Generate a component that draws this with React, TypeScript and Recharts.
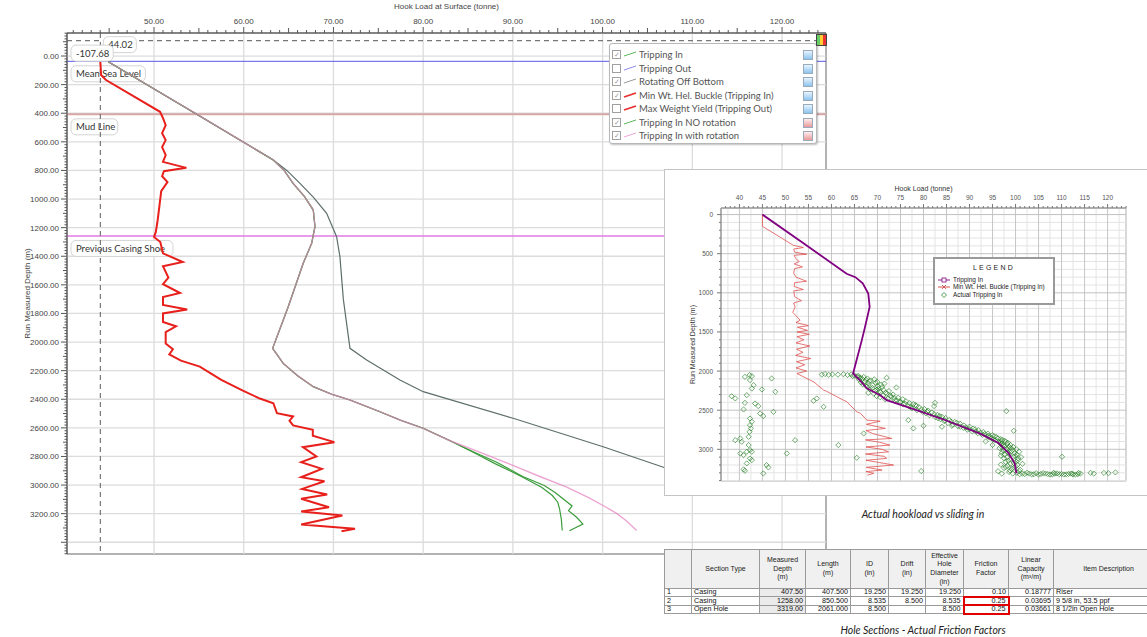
import React from "react";
import {
  ScatterChart,
  Scatter,
  XAxis,
  YAxis,
  ReferenceLine,
  ReferenceArea,
} from "recharts";

type Pt = [number, number];

// ---------- main chart: hook load (tonne) vs run measured depth (m) ----------
const mainTrunk: Pt[] = [
  [44.9, 40], [54.9, 412], [63.3, 727], [64.5, 800], [65.5, 890], [66.8, 985],
  [67.75, 1077], [67.94, 1193], [67.57, 1310], [66.63, 1449], [64.96, 1753],
  [63.22, 2044], [64.4, 2149], [66.0, 2235], [67.75, 2312], [69.8, 2365],
  [71.84, 2405], [75.18, 2487], [77.41, 2545], [80.0, 2603], [83.0, 2690],
];
const withRotationTail: Pt[] = [
  [86.5, 2775], [90.0, 2863], [93.0, 2940], [96.0, 3015], [98.5, 3090],
  [100.4, 3155], [101.6, 3200], [102.6, 3248], [103.8, 3318],
];
const noRotationTail: Pt[] = [
  [85.9, 2781], [88.0, 2850], [90.0, 2910], [91.1, 2945], [93.2, 3015],
  [94.4, 3073], [95.0, 3120], [95.2, 3164], [95.4, 3240], [95.5, 3318],
];
const trippingInTail: Pt[] = [
  [85.7, 2770], [88.2, 2840], [91.1, 2940], [93.5, 3003], [94.7, 3052],
  [96.6, 3146], [96.2, 3179], [97.1, 3225], [97.8, 3272], [96.3, 3319],
];
const rotatingOffBottom: Pt[] = [
  [44.9, 40], [54.9, 412], [63.3, 727], [64.8, 800], [66.27, 890], [67.8, 990],
  [69.24, 1100], [70.35, 1263], [70.72, 1403], [71.1, 1700], [71.84, 2044],
  [73.7, 2125], [77.41, 2265], [80.0, 2347], [90.03, 2533], [100.06, 2732],
  [106.37, 2867], [110.0, 2945],
];
const minWtBuckleMain: Pt[] = [
  [44.02, 42], [44.1, 133], [44.65, 168], [50.67, 390], [51.0, 434], [51.3, 483],
  [50.9, 539], [51.3, 588], [50.9, 637], [51.3, 693], [51.0, 740], [53.6, 782],
  [51.1, 805], [50.9, 840], [51.5, 882], [50.8, 945], [50.6, 1050], [50.4, 1150],
  [50.2, 1230], [50.0, 1265], [50.7, 1300], [51.0, 1380], [53.2, 1440], [51.0, 1470],
  [51.6, 1550], [51.0, 1595], [52.9, 1657], [51.0, 1685], [51.0, 1740], [53.7, 1773],
  [51.0, 1800], [51.0, 1860], [52.45, 1890], [51.3, 1930], [51.3, 2011], [52.1, 2050],
  [51.7, 2086], [53.0, 2130], [55.1, 2172], [57.5, 2265], [59.9, 2340], [61.8, 2395],
  [63.3, 2428], [63.7, 2497], [65.5, 2520], [65.1, 2550], [65.5, 2583], [67.7, 2613],
  [67.7, 2655], [70.1, 2700], [66.6, 2735], [68.1, 2800], [66.4, 2840], [68.7, 2887],
  [66.4, 2945], [69.0, 2973], [66.5, 3027], [69.3, 3066], [66.4, 3096], [69.5, 3155],
  [66.4, 3185], [71.0, 3213], [66.4, 3276], [72.4, 3306], [70.9, 3323],
];

const markerDepths = [37, 407.5, 1258];
const markerNames = ["Mean Sea Level", "Mud Line", "Previous Casing Shoe"];
const markerColors = ["#5a5ae6", "#d9a6a6", "#e07ae0"];
const markerWidths = [1, 2, 1.4];
const cursorLoad = 44.02;
const cursorDepth = -107.68;

const mainXDomain: [number, number] = [40.3, 124.9];
const mainYDomain: [number, number] = [-161, 3482];
const mainXLabels = [50, 60, 70, 80, 90, 100, 110, 120];
const mainDepthLabels = [0, 200, 400, 600, 800, 1000, 1200, 1400, 1600, 1800, 2000, 2200, 2400, 2600, 2800, 3000, 3200];
const mainGridY = [...mainDepthLabels, 3400];

const legendNames = [
  "Tripping In",
  "Tripping Out",
  "Rotating Off Bottom",
  "Min Wt. Hel. Buckle (Tripping In)",
  "Max Weight Yield (Tripping Out)",
  "Tripping In NO rotation",
  "Tripping In with rotation",
];
const legendColors = ["#5cb85c", "#8c8cf0", "#9a9a9a", "#e83030", "#e83030", "#5cb85c", "#f0a6d6"];
const legendChecked = [true, false, true, true, false, true, true];
const legendIconBlue = [true, true, true, true, true, false, false];

// ---------- inset: actual hookload vs sliding in ----------
const insetTrippingIn: Pt[] = [
  [45, 0], [54, 370], [63.3, 756], [65.2, 800], [66.8, 880], [68.0, 1008], [68.3, 1180],
  [67.3, 1435], [66.6, 1605], [64.7, 2030], [66.2, 2120], [67.7, 2221], [70.6, 2308],
  [72.0, 2371], [78.5, 2500], [85.1, 2635], [92.3, 2800], [96.3, 2920], [98.5, 3050],
  [99.8, 3180], [100.2, 3306],
];
const insetMinWtBuckle: Pt[] = [
  [45, 0], [45, 150], [51.7, 392], [53.9, 422], [51.8, 440], [52.0, 480], [54.6, 507],
  [51.9, 520], [52.2, 560], [53.0, 600], [51.9, 630], [53.7, 669], [52.0, 690], [51.8, 750],
  [52.3, 800], [54.6, 852], [52.0, 870], [51.9, 920], [53.9, 958], [51.8, 975], [52.0, 1050],
  [53.5, 1100], [51.8, 1130], [52.1, 1180], [51.6, 1250], [52.4, 1300], [53.2, 1350],
  [52.3, 1380], [55.0, 1420], [52.6, 1440], [54.8, 1480], [52.5, 1500], [55.2, 1530],
  [52.5, 1560], [54.0, 1600], [52.3, 1640], [55.3, 1680], [52.4, 1720], [53.8, 1760],
  [52.2, 1800], [55.5, 1840], [52.4, 1880], [54.2, 1920], [52.3, 1960], [54.6, 2000],
  [52.5, 2031], [55.4, 2117], [56.2, 2140], [58.3, 2244], [59.0, 2260], [62.6, 2372],
  [63.3, 2390], [65.5, 2521], [66.3, 2540], [67.7, 2627], [70.6, 2640], [67.6, 2680],
  [71.7, 2733], [67.5, 2760], [69.0, 2800], [73.1, 2861], [67.4, 2880], [70.5, 2910],
  [72.7, 2946], [67.5, 2970], [71.0, 3000], [72.4, 3032], [67.4, 3060], [71.5, 3090],
  [72.0, 3116], [67.5, 3140], [70.5, 3170], [73.5, 3201], [67.6, 3230], [71.0, 3265],
  [67.5, 3285], [69.2, 3307], [67.8, 3330],
];
const actualOutliers: Pt[] = [
  [41.2, 2074], [42.2, 2052], [42.7, 2065], [42.3, 2116], [43.1, 2180], [42.7, 2223],
  [44.9, 2235], [41.6, 2308], [38.3, 2321], [39.1, 2350], [41.2, 2406], [43.4, 2414],
  [44.1, 2448], [40.9, 2491], [44.5, 2542], [45.2, 2576], [47.4, 2521], [42.3, 2606],
  [42.7, 2648], [42.3, 2691], [42.5, 2733], [42.2, 2776], [42.0, 2840], [39.1, 2883],
  [40.2, 2861], [40.5, 2904], [42.0, 2946], [42.3, 3010], [41.6, 3031], [42.7, 3031],
  [40.2, 3053], [40.9, 3074], [42.3, 3117], [42.7, 3138], [41.6, 3180], [45.9, 3202],
  [46.3, 3232], [40.9, 3257], [41.2, 3274], [45.2, 3308], [47.0, 2095], [47.8, 2265],
  [50.3, 3053], [52.1, 2883], [56.1, 2380], [56.8, 2350], [58.3, 2457], [61.5, 2946],
  [65.5, 3108], [67.0, 2797], [98.0, 2512], [99.6, 2763], [110.1, 3095], [79.5, 3278],
];
const actualBand: Pt[] = [
  [57.9, 2045], [58.6, 2038], [59.4, 2048], [60.2, 2042], [61.4, 2046], [62.6, 2040],
  [63.5, 2050], [64.3, 2044], [65.0, 2056], [65.8, 2062],
  [65.5, 2070], [66.3, 2085], [67.0, 2075], [67.8, 2095], [66.0, 2110], [68.5, 2120],
  [69.3, 2105], [67.2, 2135], [70.0, 2140], [68.0, 2160], [66.8, 2170], [69.0, 2180],
  [70.8, 2175], [71.5, 2160], [72.0, 2086], [74.1, 2210], [67.7, 2200], [68.9, 2215],
  [70.2, 2225], [71.3, 2240], [69.5, 2250], [72.5, 2255], [70.7, 2270], [68.0, 2280],
  [72.0, 2290], [73.4, 2300], [71.2, 2310], [69.8, 2320], [73.0, 2330], [74.5, 2340],
  [72.3, 2350], [75.5, 2360],
  [64.6, 2065], [65.9, 2080], [66.7, 2100], [67.5, 2112], [68.2, 2130], [66.4, 2145],
  [69.6, 2150], [67.6, 2185], [70.1, 2195], [71.0, 2205], [68.4, 2235], [69.9, 2238],
  [70.4, 2260], [71.8, 2275], [69.2, 2290], [72.8, 2315], [70.6, 2335], [73.6, 2345],
  [71.7, 2362], [74.2, 2372],
  [73.8, 2375], [76.2, 2385], [74.9, 2400], [77.0, 2410], [75.6, 2425], [78.2, 2435],
  [76.8, 2450], [79.0, 2460], [77.5, 2475], [80.2, 2485], [78.6, 2500], [81.0, 2505],
  [79.8, 2520], [82.5, 2406], [82.3, 2448], [80.5, 2540], [82.3, 2550], [81.3, 2565],
  [83.5, 2575], [82.6, 2590], [84.8, 2600], [76.7, 2627],
  [75.0, 2390], [76.0, 2415], [77.8, 2420], [78.5, 2445], [77.2, 2462], [79.6, 2492],
  [80.8, 2520], [81.8, 2530], [83.0, 2560], [84.0, 2585], [83.2, 2605],
  [83.7, 2615], [85.6, 2625], [84.5, 2640], [86.8, 2650], [85.3, 2665], [87.9, 2670],
  [86.4, 2685], [88.8, 2695], [87.5, 2705], [90.0, 2710], [80.0, 2699], [77.8, 2733],
  [84.0, 2712], [88.7, 2725], [90.8, 2735], [89.5, 2750], [91.9, 2755], [90.6, 2770],
  [93.0, 2780], [91.8, 2795], [94.0, 2800],
  [84.6, 2628], [86.0, 2645], [87.2, 2660], [86.2, 2700], [88.0, 2712], [89.2, 2720],
  [89.9, 2740], [91.2, 2745], [91.4, 2775], [92.4, 2788], [93.3, 2805],
  [92.8, 2815], [95.0, 2820], [93.9, 2835], [95.9, 2845], [94.8, 2860], [96.8, 2870],
  [95.6, 2885], [97.6, 2890], [96.3, 2905], [93.5, 2900], [98.3, 2915], [97.0, 2930],
  [95.0, 2945], [98.9, 2945], [97.6, 2960], [99.5, 2970], [96.5, 2985], [98.2, 2995],
  [100.2, 3000],
  [94.2, 2825], [95.4, 2835], [94.3, 2850], [96.2, 2862], [95.1, 2875], [97.1, 2880],
  [96.9, 2898], [97.9, 2905], [96.6, 2920], [98.2, 2935], [97.3, 2950], [98.6, 2965],
  [97.1, 2975], [99.0, 2985], [97.8, 3005], [99.4, 3010],
  [97.3, 3015], [99.0, 3025], [100.8, 3030], [97.0, 3045], [98.6, 3060], [100.3, 3070],
  [96.8, 3080], [99.5, 3095], [101.2, 3100], [97.5, 3115], [98.9, 3130], [100.5, 3140],
  [97.8, 3160], [99.6, 3175], [101.5, 3185], [96.8, 3195], [98.3, 3210], [100.0, 3220],
  [97.5, 3240], [99.2, 3250], [101.0, 3260], [96.2, 3280], [98.6, 3290], [100.3, 3300],
  [97.0, 3310],
  [98.3, 3040], [99.8, 3050], [97.6, 3065], [99.9, 3085], [98.2, 3100], [100.6, 3115],
  [98.4, 3145], [100.1, 3160], [98.9, 3185], [100.4, 3200], [97.9, 3225], [99.7, 3235],
  [98.8, 3270], [100.8, 3280], [99.4, 3310], [100.9, 3318],
  [101.5, 3310], [102.5, 3300], [103.5, 3320], [104.5, 3305], [105.5, 3315], [106.5, 3310],
  [107.5, 3322], [108.5, 3312], [109.5, 3318], [110.5, 3322], [111.5, 3315], [112.5, 3320],
  [113.5, 3318], [114.1, 3310], [108.3, 3300], [112.3, 3312], [116.3, 3300], [117.0, 3310],
  [119.2, 3302], [120.2, 3305], [121.7, 3295], [113.7, 3302],
  [102.0, 3316], [103.0, 3310], [104.0, 3318], [105.0, 3322], [106.0, 3305], [107.0, 3316],
  [108.0, 3320], [109.0, 3308], [110.0, 3314], [111.0, 3320], [112.0, 3310], [113.0, 3322],
];

const insetXDomain: [number, number] = [36, 124];
const insetYDomain: [number, number] = [-84, 3405];
const insetXLabels = [40, 45, 50, 55, 60, 65, 70, 75, 80, 85, 90, 95, 100, 105, 110, 115, 120];
const insetDepthLabels = [0, 500, 1000, 1500, 2000, 2500, 3000];

// ---------- hole sections table ----------
const tableHeaders = [
  [""], ["Section Type"], ["Measured", "Depth", "(m)"], ["Length", "(m)"], ["ID", "(in)"],
  ["Drift", "(in)"], ["Effective", "Hole", "Diameter", "(in)"], ["Friction", "Factor"],
  ["Linear", "Capacity", "(m\u00b3/m)"], ["Item Description"],
];
const sectionTypes = ["Casing", "Casing", "Open Hole"];
const measuredDepths = ["407.50", "1258.00", "3319.00"];
const sectionLengths = ["407.500", "850.500", "2061.000"];
const innerDiameters = ["19.250", "8.535", "8.500"];
const driftDiameters = ["19.250", "8.500", ""];
const effectiveDiameters = ["19.250", "8.535", "8.500"];
const frictionFactors = ["0.10", "0.25", "0.25"];
const linearCapacities = ["0.18777", "0.03695", "0.03661"];
const itemDescriptions = ["Riser", "9 5/8 in, 53.5 ppf", "8 1/2in Open Hole"];
const colWidths = [27, 68, 46, 45, 38, 37, 38, 45, 45, 110];

const steps = (from: number, to: number, step: number) => {
  const out: number[] = [];
  for (let v = from; v <= to + 1e-9; v += step) out.push(Math.round(v * 100) / 100);
  return out;
};
const rows = (pts: Pt[]) => pts.map(([x, d]) => ({ x, d }));
const isMult = (v: number, m: number) => Math.abs(v / m - Math.round(v / m)) < 1e-6;

const NoDot = () => <g />;

function Diamond(props: any) {
  const { cx, cy } = props;
  if (cx == null || cy == null) return <g />;
  const r = 2.6;
  return (
    <path
      d={`M${cx},${cy - r}L${cx + r},${cy}L${cx},${cy + r}L${cx - r},${cy}Z`}
      fill="none"
      stroke="#237f23"
      strokeWidth={0.8}
      strokeOpacity={0.8}
    />
  );
}

function MainTopTick(props: any) {
  const { x, y, payload } = props;
  const v = payload.value;
  const len = isMult(v, 10) ? 6 : isMult(v, 5) ? 5 : 3;
  return (
    <g>
      <line x1={x} x2={x} y1={y} y2={y - len} stroke="#555" />
      {mainXLabels.includes(v) && (
        <text x={x} y={y - 9} textAnchor="middle" fontSize={8} fill="#444">
          {v.toFixed(2)}
        </text>
      )}
    </g>
  );
}

function MainLeftTick(props: any) {
  const { x, y, payload } = props;
  const v = payload.value;
  const len = isMult(v, 200) ? 6 : isMult(v, 100) ? 4 : 2.5;
  return (
    <g>
      <line x1={x} x2={x - len} y1={y} y2={y} stroke="#555" />
      {mainDepthLabels.includes(v) && (
        <text x={x - 8} y={y + 3} textAnchor="end" fontSize={8} fill="#444">
          {v.toFixed(2)}
        </text>
      )}
    </g>
  );
}

function InsetTopTick(props: any) {
  const { x, y, payload } = props;
  const v = payload.value;
  const major = insetXLabels.includes(v);
  return (
    <g>
      <line x1={x} x2={x} y1={y} y2={y - (major ? 4 : 2)} stroke="#777" />
      {major && (
        <text x={x} y={y - 8.5} textAnchor="middle" fontSize={6.5} fill="#555">
          {v}
        </text>
      )}
    </g>
  );
}

function InsetLeftTick(props: any) {
  const { x, y, payload } = props;
  const v = payload.value;
  const major = insetDepthLabels.includes(v);
  return (
    <g>
      <line x1={x} x2={x - (major ? 4 : 2)} y1={y} y2={y} stroke="#777" />
      {major && (
        <text x={x - 8} y={y + 2.5} textAnchor="end" fontSize={6.5} fill="#555">
          {v}
        </text>
      )}
    </g>
  );
}

function Box({ x, y, text }: { x: number; y: number; text: string }) {
  const w = text.length * 4.6 + 10;
  return (
    <g>
      <rect x={x} y={y} width={w} height={16} rx={5} fill="#fff" stroke="#d4d4d4" />
      <text x={x + 5} y={y + 11.5} fontSize={9.5} fill="#333" fontFamily="Lato, sans-serif">
        {text}
      </text>
    </g>
  );
}

function BoxLabel(props: any) {
  const { viewBox, text } = props;
  if (!viewBox) return null;
  return <Box x={viewBox.x + 4} y={viewBox.y + 4.5} text={text} />;
}

// both cursor read-outs drawn from the horizontal cursor line so "-107.68" sits on top
function CursorLabels(props: any) {
  const { viewBox } = props;
  if (!viewBox) return null;
  const frac = (cursorLoad - mainXDomain[0]) / (mainXDomain[1] - mainXDomain[0]);
  const lineX = viewBox.x + frac * viewBox.width;
  return (
    <g>
      <Box x={lineX + 3} y={viewBox.y - 4} text={cursorLoad.toFixed(2)} />
      <Box x={viewBox.x + 4} y={viewBox.y + 4.5} text={cursorDepth.toFixed(2)} />
    </g>
  );
}

function MainChart() {
  return (
    <ScatterChart width={830} height={560} margin={{ top: 0, right: 4, bottom: 6, left: 0 }}>
      <XAxis
        type="number"
        dataKey="x"
        orientation="top"
        domain={mainXDomain}
        allowDataOverflow
        ticks={steps(41, 124, 1)}
        interval={0}
        tickSize={0}
        tickMargin={0}
        tick={<MainTopTick />}
        height={33}
        stroke="#555"
        label={{ value: "Hook Load at Surface (tonne)", position: "insideTop", offset: 3, fontSize: 8, fill: "#444" }}
      />
      <YAxis
        type="number"
        dataKey="d"
        reversed
        domain={mainYDomain}
        allowDataOverflow
        ticks={steps(-160, 3480, 20)}
        interval={0}
        tickSize={0}
        tickMargin={0}
        tick={<MainLeftTick />}
        width={67}
        stroke="#555"
        label={{
          value: "Run Measured Depth (m)",
          angle: -90,
          position: "insideLeft",
          offset: 27,
          fontSize: 8,
          fill: "#444",
          style: { textAnchor: "middle" },
        }}
      />
      {mainXLabels.map((v) => (
        <ReferenceLine key={`gx${v}`} x={v} stroke="#dcdcdc" strokeWidth={1.3} />
      ))}
      {mainGridY.map((v) => (
        <ReferenceLine key={`gy${v}`} y={v} stroke="#dcdcdc" strokeWidth={1.3} />
      ))}
      <ReferenceArea
        x1={mainXDomain[0]}
        x2={mainXDomain[1]}
        y1={mainYDomain[0]}
        y2={mainYDomain[1]}
        fill="none"
        stroke="#666"
        ifOverflow="visible"
      />
      {markerDepths.map((d, i) => (
        <ReferenceLine
          key={markerNames[i]}
          y={d}
          stroke={markerColors[i]}
          strokeWidth={markerWidths[i]}
          label={<BoxLabel text={markerNames[i]} />}
        />
      ))}
      <ReferenceLine x={cursorLoad} stroke="#777" strokeDasharray="5 4" strokeWidth={1.2} />
      <ReferenceLine
        y={cursorDepth}
        stroke="#777"
        strokeDasharray="5 4"
        strokeWidth={1.2}
        label={<CursorLabels />}
      />
      <Scatter
        name="Rotating Off Bottom"
        data={rows(rotatingOffBottom)}
        fill="#5d6e6c"
        line={{ stroke: "#5d6e6c", strokeWidth: 1.2 }}
        shape={NoDot}
        isAnimationActive={false}
      />
      <Scatter
        name="Tripping In NO rotation"
        data={rows([...mainTrunk, ...noRotationTail])}
        fill="#3c9c3c"
        line={{ stroke: "#3c9c3c", strokeWidth: 1.2 }}
        shape={NoDot}
        isAnimationActive={false}
      />
      <Scatter
        name="Tripping In"
        data={rows([...mainTrunk, ...trippingInTail])}
        fill="#3c9c3c"
        line={{ stroke: "#3c9c3c", strokeWidth: 1.2 }}
        shape={NoDot}
        isAnimationActive={false}
      />
      <Scatter
        name="Tripping In with rotation"
        data={rows([...mainTrunk, ...withRotationTail])}
        fill="#e482c0"
        line={{ stroke: "#e482c0", strokeWidth: 1.4, strokeOpacity: 0.72 }}
        shape={NoDot}
        isAnimationActive={false}
      />
      <Scatter
        name="Min Wt. Hel. Buckle (Tripping In)"
        data={rows(minWtBuckleMain)}
        fill="#e8201c"
        line={{ stroke: "#e8201c", strokeWidth: 2 }}
        shape={NoDot}
        isAnimationActive={false}
      />
    </ScatterChart>
  );
}

function MainLegend() {
  return (
    <div
      style={{
        position: "absolute",
        left: 609,
        top: 43,
        width: 206,
        height: 99,
        border: "1px solid #b8b8b8",
        borderRadius: 3,
        background: "#fff",
        boxShadow: "1px 1px 2px rgba(0,0,0,0.25)",
        fontFamily: "Lato, sans-serif",
        fontSize: 9.5,
        color: "#555",
      }}
    >
      {legendNames.map((name, i) => (
        <div key={name} style={{ position: "absolute", left: 0, top: 4 + i * 13.5, width: 206, height: 13.5 }}>
          <div
            style={{
              position: "absolute",
              left: 2,
              top: 2,
              width: 7,
              height: 7,
              border: "1px solid #a0a0a0",
              background: "#fff",
              fontSize: 7,
              lineHeight: "7px",
              color: "#999",
              textAlign: "center",
            }}
          >
            {legendChecked[i] ? "\u2713" : ""}
          </div>
          <svg style={{ position: "absolute", left: 13, top: 2 }} width={14} height={8}>
            <line x1={1} y1={6} x2={13} y2={2} stroke={legendColors[i]} strokeWidth={i === 3 || i === 4 ? 1.8 : 1} />
          </svg>
          <div style={{ position: "absolute", left: 29, top: 0, lineHeight: "13px", whiteSpace: "nowrap" }}>{name}</div>
          <div
            style={{
              position: "absolute",
              left: 193,
              top: 2,
              width: 8,
              height: 8,
              border: "1px solid #9ab",
              background: legendIconBlue[i]
                ? "linear-gradient(#e8f4ff, #8cc4ee)"
                : "linear-gradient(#ffecec, #e89a9a)",
            }}
          />
        </div>
      ))}
    </div>
  );
}

function ChartIcon() {
  return (
    <div
      style={{
        position: "absolute",
        left: 816,
        top: 34,
        width: 9,
        height: 10,
        border: "1px solid #444",
        background: "linear-gradient(90deg, #6c6 0 33%, #fc3 33% 66%, #e33 66%)",
      }}
    />
  );
}

function InsetChart() {
  const minorX = steps(37.5, 122.5, 2.5).filter((v) => !insetXLabels.includes(v));
  const minorY = steps(100, 3400, 100).filter((v) => !insetDepthLabels.includes(v));
  return (
    <ScatterChart width={480} height={325} margin={{ top: 0, right: 19, bottom: 14, left: 0 }}>
      <XAxis
        type="number"
        dataKey="x"
        orientation="top"
        domain={insetXDomain}
        allowDataOverflow
        ticks={steps(37, 124, 1)}
        interval={0}
        tickSize={0}
        tickMargin={0}
        tick={<InsetTopTick />}
        height={38}
        stroke="#888"
        label={{ value: "Hook Load (tonne)", position: "insideTop", offset: 16, fontSize: 7, fill: "#333" }}
      />
      <YAxis
        type="number"
        dataKey="d"
        reversed
        domain={insetYDomain}
        allowDataOverflow
        ticks={steps(0, 3400, 100)}
        interval={0}
        tickSize={0}
        tickMargin={0}
        tick={<InsetLeftTick />}
        width={56}
        stroke="#888"
        label={{
          value: "Run Measured Depth (m)",
          angle: -90,
          position: "insideLeft",
          offset: 28,
          fontSize: 7,
          fill: "#333",
          style: { textAnchor: "middle" },
        }}
      />
      {minorX.map((v) => (
        <ReferenceLine key={`mx${v}`} x={v} stroke="#e4e4e4" />
      ))}
      {minorY.map((v) => (
        <ReferenceLine key={`my${v}`} y={v} stroke="#e4e4e4" />
      ))}
      {insetXLabels.map((v) => (
        <ReferenceLine key={`Mx${v}`} x={v} stroke="#c6c6c6" />
      ))}
      {insetDepthLabels.map((v) => (
        <ReferenceLine key={`My${v}`} y={v} stroke="#c2c2c2" />
      ))}
      <ReferenceArea
        x1={insetXDomain[0]}
        x2={insetXDomain[1]}
        y1={insetYDomain[0]}
        y2={insetYDomain[1]}
        fill="none"
        stroke="#b0b0b0"
        ifOverflow="visible"
      />
      <Scatter
        name="Min Wt. Hel. Buckle (Tripping In)"
        data={rows(insetMinWtBuckle)}
        fill="#e05050"
        line={{ stroke: "#e05050", strokeWidth: 0.8 }}
        shape={NoDot}
        isAnimationActive={false}
      />
      <Scatter
        name="Actual Tripping In"
        data={rows([...actualOutliers, ...actualBand])}
        fill="none"
        shape={Diamond}
        isAnimationActive={false}
      />
      <Scatter
        name="Tripping In"
        data={rows(insetTrippingIn)}
        fill="#800080"
        line={{ stroke: "#800080", strokeWidth: 1.8 }}
        shape={NoDot}
        isAnimationActive={false}
      />
    </ScatterChart>
  );
}

function InsetLegend() {
  const items = [
    { name: "Tripping In", kind: "square", color: "#800080" },
    { name: "Min Wt. Hel. Buckle (Tripping In)", kind: "cross", color: "#d04040" },
    { name: "Actual Tripping In", kind: "diamond", color: "#2a862a" },
  ];
  return (
    <div
      style={{
        position: "absolute",
        left: 268,
        top: 87,
        width: 118,
        height: 44,
        border: "2px solid #9a9a9a",
        background: "#fff",
        fontSize: 6.4,
        color: "#222",
      }}
    >
      <div style={{ position: "absolute", left: 0, top: 5, width: 118, textAlign: "center", letterSpacing: 2.2, fontSize: 7 }}>
        LEGEND
      </div>
      {items.map((it, i) => (
        <div key={it.name} style={{ position: "absolute", left: 0, top: 16.5 + i * 7.7, height: 8, width: 118 }}>
          <svg style={{ position: "absolute", left: 2, top: 0 }} width={14} height={8}>
            {it.kind !== "diamond" && <line x1={1} y1={4} x2={13} y2={4} stroke={it.color} strokeWidth={0.9} />}
            {it.kind === "square" && <rect x={5} y={2} width={4} height={4} fill="#fff" stroke={it.color} strokeWidth={0.8} />}
            {it.kind === "cross" && <path d="M5,2L9,6M9,2L5,6" stroke={it.color} strokeWidth={0.8} />}
            {it.kind === "diamond" && <path d="M7,1.5L9.5,4L7,6.5L4.5,4Z" fill="none" stroke={it.color} strokeWidth={0.8} />}
          </svg>
          <div style={{ position: "absolute", left: 18, top: 0, lineHeight: "8px", whiteSpace: "nowrap" }}>{it.name}</div>
        </div>
      ))}
    </div>
  );
}

function InsetPanel() {
  return (
    <div
      style={{
        position: "absolute",
        left: 664,
        top: 169,
        width: 520,
        height: 325,
        border: "1px solid #c4c4c4",
        background: "#fff",
      }}
    >
      <InsetChart />
      <InsetLegend />
    </div>
  );
}

function HoleTable() {
  const border = "1px solid #9a9a9a";
  const head: React.CSSProperties = {
    border,
    background: "#f0f0f0",
    fontSize: 7,
    lineHeight: "8.6px",
    fontWeight: "normal",
    textAlign: "center",
    verticalAlign: "middle",
    padding: 0,
    color: "#222",
  };
  const cell: React.CSSProperties = {
    border,
    fontSize: 7.2,
    lineHeight: "6.6px",
    height: 6.6,
    padding: "0 2px",
    whiteSpace: "nowrap",
    overflow: "hidden",
    color: "#111",
  };
  const num: React.CSSProperties = { ...cell, textAlign: "right" };
  const redBox: React.CSSProperties = { ...num, border: "2px solid #e00000" };
  return (
    <table
      style={{
        position: "absolute",
        left: 664,
        top: 549,
        borderCollapse: "collapse",
        tableLayout: "fixed",
        width: colWidths.reduce((a, b) => a + b, 0),
        fontFamily: '"Liberation Sans", Arial, sans-serif',
      }}
    >
      <colgroup>
        {colWidths.map((w, i) => (
          <col key={i} style={{ width: w }} />
        ))}
      </colgroup>
      <thead>
        <tr style={{ height: 39 }}>
          {tableHeaders.map((lines, i) => (
            <th key={i} style={head}>
              {lines.map((l, j) => (
                <div key={j}>{l}</div>
              ))}
            </th>
          ))}
        </tr>
      </thead>
      <tbody>
        {sectionTypes.map((s, r) => (
          <tr key={r}>
            <td style={{ ...cell, background: "#fff" }}>{r + 1}</td>
            <td style={cell}>{s}</td>
            <td style={{ ...num, background: "#ebebeb" }}>{measuredDepths[r]}</td>
            <td style={num}>{sectionLengths[r]}</td>
            <td style={num}>{innerDiameters[r]}</td>
            <td style={num}>{driftDiameters[r]}</td>
            <td style={num}>{effectiveDiameters[r]}</td>
            <td style={r > 0 ? redBox : num}>{frictionFactors[r]}</td>
            <td style={num}>{linearCapacities[r]}</td>
            <td style={cell}>{itemDescriptions[r]}</td>
          </tr>
        ))}
      </tbody>
    </table>
  );
}

const captionStyle: React.CSSProperties = {
  position: "absolute",
  left: 663,
  width: 520,
  textAlign: "center",
  fontFamily: "Lato, sans-serif",
  fontStyle: "italic",
  fontSize: 10.5,
  lineHeight: "16px",
  color: "#222",
};

export default function App() {
  return (
    <div
      style={{
        position: "absolute",
        left: 0,
        top: 0,
        width: 1147,
        height: 637,
        overflow: "hidden",
        background: "#fff",
        fontFamily: '"Liberation Sans", Arial, sans-serif',
      }}
    >
      <div style={{ position: "absolute", left: 0, top: 0 }}>
        <MainChart />
      </div>
      <MainLegend />
      <ChartIcon />
      <InsetPanel />
      <div style={{ ...captionStyle, top: 506 }}>Actual hookload vs sliding in</div>
      <HoleTable />
      <div style={{ ...captionStyle, top: 622 }}>Hole Sections - Actual Friction Factors</div>
    </div>
  );
}
